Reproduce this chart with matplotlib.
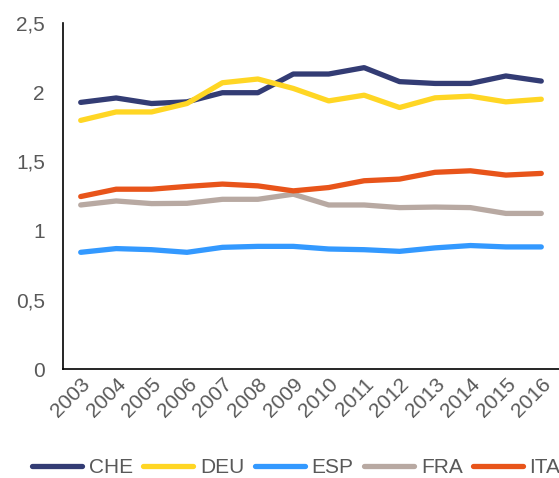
import numpy as np
import matplotlib.pyplot as plt

plt.rcParams['font.family'] = ['Liberation Sans', 'DejaVu Sans']

years = ['2003', '2004', '2005', '2006', '2007', '2008', '2009',
         '2010', '2011', '2012', '2013', '2014', '2015', '2016']

che = [1.926, 1.958, 1.918, 1.930, 1.996, 1.996, 2.131,
       2.131, 2.177, 2.076, 2.063, 2.063, 2.117, 2.080]
deu = [1.796, 1.857, 1.857, 1.918, 2.068, 2.095, 2.027,
       1.937, 1.978, 1.889, 1.959, 1.971, 1.930, 1.949]
esp = [0.843, 0.870, 0.862, 0.843, 0.879, 0.886, 0.886,
       0.867, 0.862, 0.850, 0.875, 0.892, 0.882, 0.882]
fra = [1.185, 1.214, 1.195, 1.197, 1.226, 1.226, 1.263,
       1.185, 1.185, 1.166, 1.170, 1.166, 1.124, 1.124]
ita = [1.246, 1.299, 1.299, 1.319, 1.336, 1.323, 1.287,
       1.311, 1.360, 1.372, 1.421, 1.432, 1.401, 1.413]

series = [('CHE', che, '#333c74'),
          ('DEU', deu, '#ffd624'),
          ('ESP', esp, '#3399ff'),
          ('FRA', fra, '#b8a9a2'),
          ('ITA', ita, '#e8541a')]

grey = '#595959'

fig = plt.figure(figsize=(5.59, 4.78), dpi=100)
ax = fig.add_axes([0.1127, 0.228, 0.8873, 0.724])

x = np.arange(len(years))
for name, vals, col in series:
    ax.plot(x, vals, color=col, lw=3.8, solid_capstyle='round',
            solid_joinstyle='round', label=name)

ax.set_xlim(-0.5, len(years) - 0.5)
ax.set_ylim(0, 2.5)
ax.set_yticks([0, 0.5, 1, 1.5, 2, 2.5])
ax.set_yticklabels(['0', '0,5', '1', '1,5', '2', '2,5'])
ax.set_xticks(x)
ax.set_xticklabels(years, rotation=45, ha='right', rotation_mode='anchor')

ax.tick_params(length=0, labelsize=15, labelcolor=grey)
ax.tick_params(axis='y', pad=13)
ax.tick_params(axis='x', pad=4)

for s in ['top', 'right']:
    ax.spines[s].set_visible(False)
for s in ['left', 'bottom']:
    ax.spines[s].set_color('black')
    ax.spines[s].set_linewidth(1.2)

fig.legend(loc='center', bbox_to_anchor=(0.53, 0.022), ncol=5,
           frameon=False, fontsize=15, labelcolor=grey, handlelength=2.4,
           handletextpad=0.34, columnspacing=0.48, borderpad=0)

fig.savefig('out.png', dpi=100)
